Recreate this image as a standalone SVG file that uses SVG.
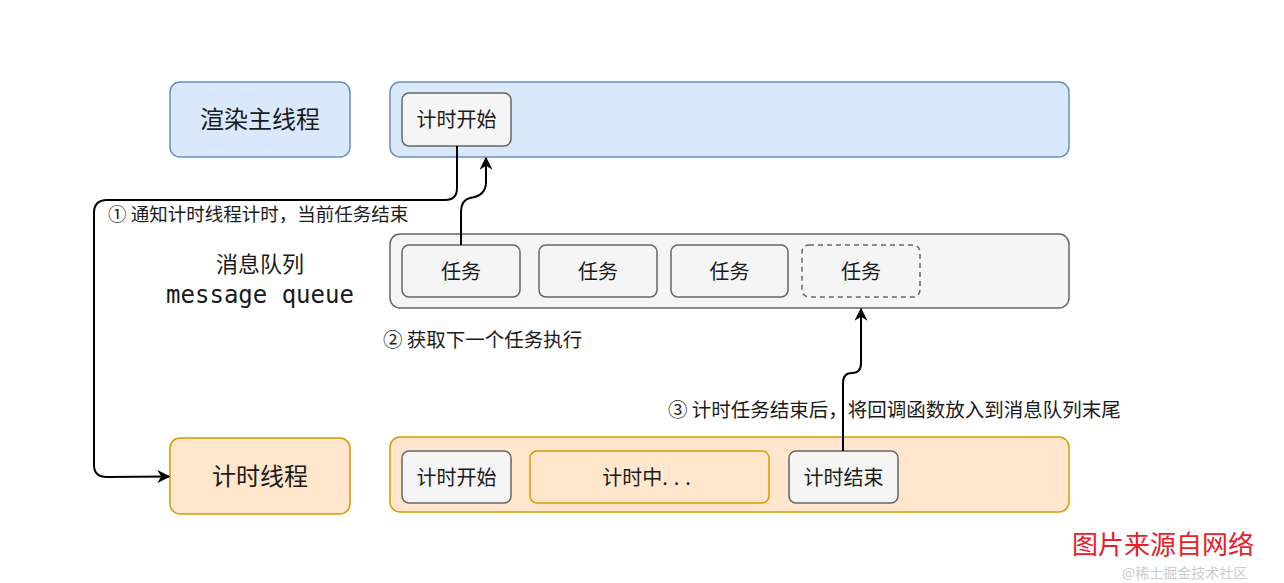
<svg xmlns="http://www.w3.org/2000/svg" width="1284" height="583" viewBox="0 0 1284 583">
<defs>
<style>
text{font-family:"Noto Sans CJK SC","Noto Sans",sans-serif;fill:#1a1a1a}
.blue{fill:#dae8fc;stroke:#6c8ebf;stroke-width:1.5}
.orange{fill:#ffe6cc;stroke:#d79b00;stroke-width:1.5}
.grey{fill:#f5f5f5;stroke:#666666;stroke-width:1.5}
.dash{stroke-dasharray:5 4}
.big{font-size:24px}
.mid{font-size:20px}
.lbl{font-size:19px}
.conn{fill:none;stroke:#000;stroke-width:2}
</style>
<marker id="arr" viewBox="0 0 10 10" refX="9" refY="5" markerWidth="13" markerHeight="13" orient="auto" markerUnits="userSpaceOnUse">
<path d="M0,0 L10,5 L0,10 L3,5 Z" fill="#000"/>
</marker>
</defs>
<rect width="1284" height="583" fill="#ffffff"/>

<g id="render-thread"><rect class="blue" x="170" y="82" width="180" height="75" rx="10"/><text class="big" x="260" y="128" text-anchor="middle">渲染主线程</text></g>
<g id="render-lane"><rect class="blue" x="390" y="82" width="679" height="75" rx="10"/></g>
<g id="render-start"><rect class="grey" x="402" y="93" width="109" height="53" rx="7"/><text class="mid" x="456.5" y="127" text-anchor="middle">计时开始</text></g>

<g id="mq-label"><text x="260" y="272" text-anchor="middle" style="font-size:22px">消息队列</text><text x="260" y="303" text-anchor="middle" style="font-family:'DejaVu Sans Mono','Liberation Mono',monospace;font-size:24px">message queue</text></g>
<g id="mq-lane"><rect class="grey" x="390" y="234" width="679" height="74" rx="10"/></g>
<g id="task1"><rect class="grey" x="402" y="245" width="118" height="52" rx="7"/><text class="mid" x="461" y="279" text-anchor="middle">任务</text></g>
<g id="task2"><rect class="grey" x="539" y="245" width="118" height="52" rx="7"/><text class="mid" x="598" y="279" text-anchor="middle">任务</text></g>
<g id="task3"><rect class="grey" x="671" y="245" width="117" height="52" rx="7"/><text class="mid" x="729.5" y="279" text-anchor="middle">任务</text></g>
<g id="task4"><rect class="grey dash" x="802" y="245" width="118" height="52" rx="7"/><text class="mid" x="861" y="279" text-anchor="middle">任务</text></g>

<g id="timer-thread"><rect class="orange" x="170" y="438" width="180" height="76" rx="10"/><text class="big" x="260" y="485" text-anchor="middle">计时线程</text></g>
<g id="timer-lane"><rect class="orange" x="390" y="437" width="679" height="75" rx="10"/></g>
<g id="timer-start"><rect class="grey" x="402" y="451" width="109" height="52" rx="7"/><text class="mid" x="456.5" y="485" text-anchor="middle">计时开始</text></g>
<g id="timing"><rect class="orange" x="530" y="451" width="239" height="52" rx="7"/><text class="mid" x="649.5" y="485" text-anchor="middle">计时中<tspan letter-spacing="6">...</tspan></text></g>
<g id="timer-end"><rect class="grey" x="789" y="451" width="109" height="52" rx="7"/><text class="mid" x="843.5" y="485" text-anchor="middle">计时结束</text></g>

<g id="connectors">
<path class="conn" d="M457,146 L457,188 Q457,200 445,200 L107,200 Q94,200 94,213 L94,465 Q94,477 107,477 L169,476.5" marker-end="url(#arr)"/>
<path class="conn" d="M461,245 L461,212 Q461,200 470,198 Q486,196 486,182 L486,158" marker-end="url(#arr)"/>
<path class="conn" d="M843,451 L843,383 Q843,373 852,373 Q861,373 861,363 L861,309" marker-end="url(#arr)"/>
</g>

<g id="labels">
<text class="lbl" x="108" y="221" style="font-size:18.5px">① 通知计时线程计时，当前任务结束</text>
<text class="lbl" x="383" y="347" style="font-size:19.5px">② 获取下一个任务执行</text>
<text class="lbl" x="668" y="417" style="font-size:19.5px">③ 计时任务结束后，将回调函数放入到消息队列末尾</text>
</g>

<g id="watermark">
<text x="1072" y="554" style="font-size:26px;fill:#e8202a">图片来源自网络</text>
<text x="1122" y="578" style="font-size:14px;fill:#cccccc">@稀土掘金技术社区</text>
</g>
</svg>
